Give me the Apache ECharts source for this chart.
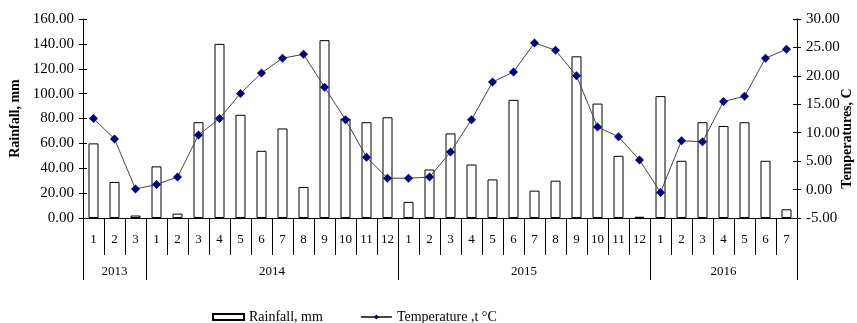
<!DOCTYPE html>
<html><head><meta charset="utf-8">
<script src="https://cdn.jsdelivr.net/npm/echarts@6/dist/echarts.min.js"></script>
<style>html,body{margin:0;padding:0;background:#fff}#c{width:857px;height:323px}</style>
</head><body><div id="c"></div>
<script>
const monthLabels = ['1','2','3','1','2','3','4','5','6','7','8','9','10','11','12','1','2','3','4','5','6','7','8','9','10','11','12','1','2','3','4','5','6','7'];
const yearLabels = ['2013','2014','2015','2016'];
const yearSpans = [3,12,12,7];
const rainfall = [60,29,2, 41.5,3.5,77,140,83,54,72,25,143,80,77,81, 13,39,68,43,31,95,22,30,130,92,50,1, 98,46,77,74,77,46,7];
const temperature = [12.5,8.9,0.1, 0.9,2.2,9.6,12.5,16.9,20.5,23.1,23.8,18,12.3,5.7,2.0, 2.0,2.2,6.6,12.3,18.9,20.7,25.8,24.5,20,11,9.3,5.2, -0.5,8.6,8.4,15.5,16.4,23.1,24.7];
const rainTicks = {min:0,max:160,interval:20};
const tempTicks = {min:-5,max:30,interval:5};

const bounds=[0]; yearSpans.forEach(s=>bounds.push(bounds[bounds.length-1]+s));
const centers=yearSpans.map((s,i)=>bounds[i]+s/2);
const font='Liberation Serif';
const lblY={formatter:v=>v.toFixed(2),fontSize:15,fontFamily:font,color:'#000',margin:9};
const innerTicks=(pos,t)=>({type:'value',min:t.min,max:t.max,interval:t.interval,position:pos,
  axisLine:{show:false},splitLine:{show:false},axisLabel:{show:false},
  axisTick:{show:true,inside:true,length:4,lineStyle:{color:'#000'}}});
const chart=echarts.init(document.getElementById('c'));
chart.setOption({
  animation:false,
  textStyle:{fontFamily:font,color:'#000'},
  grid:{left:83,right:60,top:19,bottom:105,containLabel:false,outerBoundsMode:'none'},
  legend:{left:207,top:305,itemGap:37,itemWidth:31,itemHeight:6,
    textStyle:{fontFamily:font,fontSize:14,color:'#000'},
    data:[{name:'Rainfall, mm',icon:'rect'},{name:'Temperature ,t °C'}]},
  xAxis:[
    {type:'category',data:monthLabels,boundaryGap:true,
     axisLine:{lineStyle:{color:'#000',width:1}},
     axisTick:{show:true,interval:0,length:37,lineStyle:{color:'#000'}},
     axisLabel:{interval:0,margin:15,fontSize:13,fontFamily:font,color:'#000'}},
    {type:'value',min:0,max:bounds[bounds.length-1],position:'bottom',
     axisLine:{show:false},splitLine:{show:false},
     axisTick:{show:false},
     axisLabel:{customValues:centers,margin:47,fontSize:13,fontFamily:font,color:'#000',
       formatter:v=>{const i=centers.indexOf(v);return i>=0?yearLabels[i]:'';}}},
    {type:'category',data:monthLabels,boundaryGap:true,position:'bottom',
     axisLine:{show:false},splitLine:{show:false},axisLabel:{show:false},
     axisTick:{show:true,length:62,lineStyle:{color:'#000'},
       interval:(i)=>bounds.indexOf(i)>=0}}
  ],
  yAxis:[
    {type:'value',min:rainTicks.min,max:rainTicks.max,interval:rainTicks.interval,position:'left',
     name:'Rainfall, mm',nameLocation:'middle',nameGap:61,nameRotate:90,nameMoveOverlap:false,
     nameTextStyle:{fontFamily:font,fontWeight:'bold',fontSize:14,color:'#000'},
     axisLine:{show:true,lineStyle:{color:'#000'}},
     axisTick:{show:true,length:4,lineStyle:{color:'#000'}},
     splitLine:{show:false},axisLabel:lblY},
    {type:'value',min:tempTicks.min,max:tempTicks.max,interval:tempTicks.interval,position:'right',
     name:'Temperatures, C',nameLocation:'middle',nameGap:43,nameRotate:90,nameMoveOverlap:false,
     nameTextStyle:{fontFamily:font,fontWeight:'bold',fontSize:14,color:'#000',padding:[0,40,0,0]},
     axisLine:{show:true,lineStyle:{color:'#000'}},
     axisTick:{show:true,length:4,lineStyle:{color:'#000'}},
     splitLine:{show:false},axisLabel:lblY},
    innerTicks('left',rainTicks),
    innerTicks('right',tempTicks)
  ],
  series:[
    {name:'Rainfall, mm',type:'bar',xAxisIndex:0,yAxisIndex:0,data:rainfall,barWidth:10,
     itemStyle:{color:'#fff',borderColor:'#000',borderWidth:1}},
    {name:'Temperature ,t °C',type:'line',xAxisIndex:0,yAxisIndex:1,data:temperature,
     symbol:'diamond',symbolSize:9,
     itemStyle:{color:'#000080'},lineStyle:{color:'#444',width:1}}
  ]
});
</script></body></html>
